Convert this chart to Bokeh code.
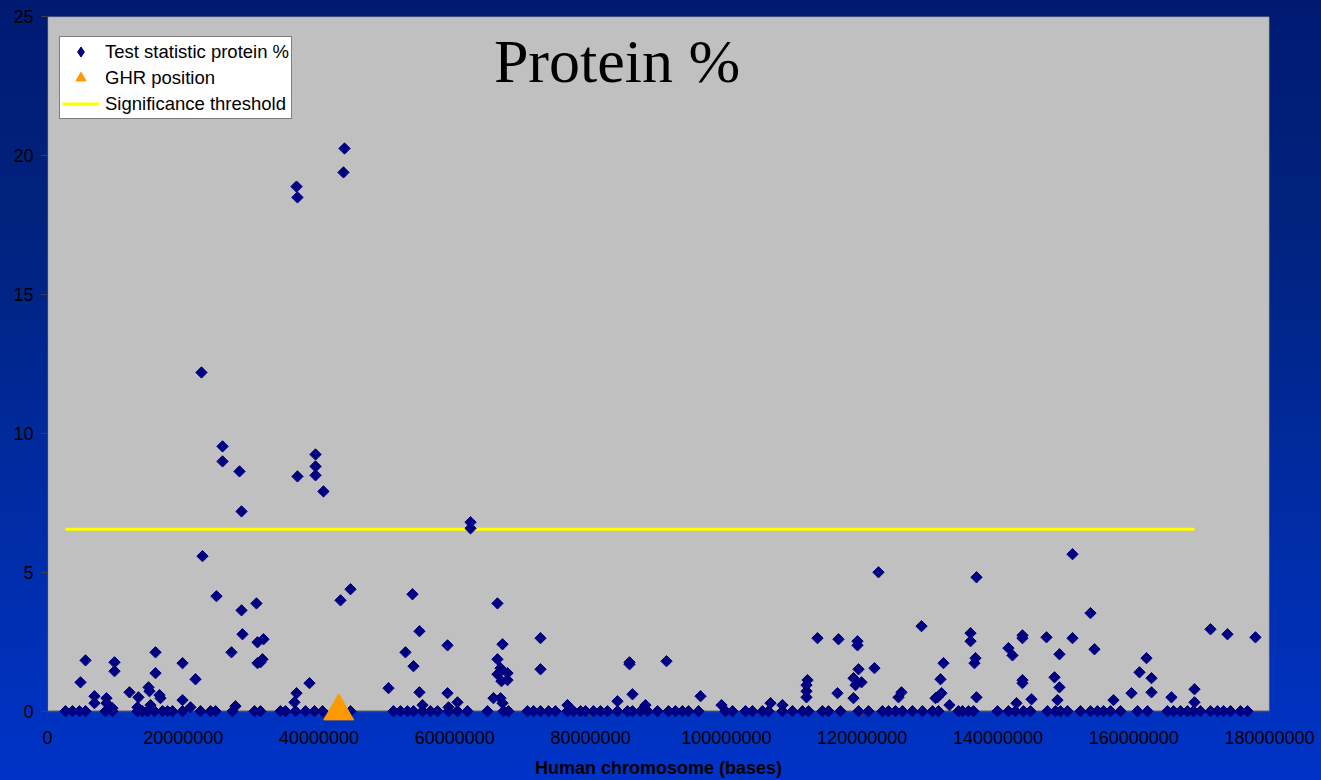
import numpy as np
from bokeh.plotting import figure
from bokeh.models import (Range1d, FixedTicker, NumeralTickFormatter, Legend, LegendItem,
                          BoxAnnotation, Label, Span, ColumnDataSource, LinearAxis)
from bokeh.embed import file_html
from bokeh.resources import INLINE

# ---------------------------------------------------------------------------
# Data: test statistic for protein % along the human chromosome
# ---------------------------------------------------------------------------
# markers with a non-zero test statistic (position in Mb, statistic)
peak_positions_mb = [
    22.68, 36.68, 36.82, 43.75, 43.60, 25.78, 25.78, 28.28, 36.82, 39.48,
    39.48, 39.48, 40.65, 28.58, 22.83, 62.31, 62.31, 122.40, 150.98, 136.84,
    24.89, 28.58, 30.78, 28.72, 30.93, 31.82, 27.10, 30.93, 31.67, 31.37,
    43.16, 44.63, 5.60, 4.86, 9.87, 9.87, 15.91, 15.91, 19.89, 21.80,
    12.08, 13.40, 14.88, 15.02, 16.50, 16.64, 6.92, 6.92, 8.69, 8.69,
    19.89, 27.69, 38.59, 36.68, 36.38, 9.57, 13.26, 15.17, 21.06,
    53.76, 66.28, 54.79, 58.92, 52.73, 53.91, 67.02, 72.62, 72.62, 66.28,
    66.73, 66.28, 67.76, 66.87, 67.76, 85.73, 85.73, 86.17, 50.23, 54.79,
    58.92, 65.69, 66.73, 67.02, 60.39, 59.07, 55.24, 76.59, 83.96, 88.08,
    128.74, 91.18, 113.42, 116.51, 119.31, 119.31, 119.46, 121.81, 118.72, 119.02,
    119.90, 111.95, 111.80, 111.80, 111.80, 116.36, 118.72, 96.19, 131.98, 131.54,
    131.68, 131.09, 130.80, 125.79, 125.35, 132.86, 99.28, 106.50, 108.26,
    153.63, 135.96, 135.96, 143.61, 143.61, 147.15, 150.98, 171.31, 173.81, 177.93,
    141.55, 142.14, 154.22, 149.06, 136.69, 136.54, 161.88, 160.85, 162.62, 148.33,
    149.06, 143.61, 143.61, 162.62, 159.67, 168.95, 168.95, 165.56, 136.84, 144.94,
    148.77, 142.73, 157.02,
]
peak_values = [
    12.19, 18.88, 18.49, 20.25, 19.39, 9.53, 8.99, 8.63, 8.45, 9.24,
    8.81, 8.49, 7.91, 7.19, 5.58, 6.80, 6.58, 5.00, 5.65, 4.82,
    4.14, 3.63, 3.88, 2.77, 2.48, 2.59, 2.12, 1.73, 1.87, 1.76,
    3.99, 4.39, 1.83, 1.04, 1.76, 1.44, 2.12, 1.37, 1.73, 1.15,
    0.68, 0.50, 0.86, 0.72, 0.58, 0.47, 0.54, 0.29, 0.47, 0.29,
    0.40, 0.18, 1.01, 0.65, 0.32, 0.11, 0.14, 0.22, 0.14,
    4.21, 3.88, 2.88, 2.37, 2.12, 1.62, 2.41, 2.63, 1.51, 1.87,
    1.55, 1.33, 1.37, 1.08, 1.12, 1.76, 1.69, 0.61, 0.83, 0.68,
    0.65, 0.47, 0.47, 0.29, 0.32, 0.14, 0.22, 0.22, 0.36, 0.22,
    3.06, 1.80, 2.63, 2.59, 2.52, 2.37, 1.51, 1.55, 1.19, 0.94,
    1.04, 1.12, 0.94, 0.72, 0.50, 0.65, 0.47, 0.54, 1.73, 1.15,
    0.65, 0.50, 0.47, 0.68, 0.50, 0.22, 0.22, 0.29, 0.22,
    3.53, 2.81, 2.52, 2.73, 2.63, 2.66, 2.63, 2.95, 2.77, 2.66,
    2.27, 2.01, 2.23, 2.05, 1.91, 1.73, 1.91, 1.40, 1.19, 1.22,
    0.86, 1.12, 1.01, 0.68, 0.65, 0.79, 0.32, 0.50, 0.50, 0.43,
    0.40, 0.29, 0.40,
]
# markers whose test statistic is zero (position in Mb)
zero_positions_mb = [
    2.65, 3.68, 4.71, 5.60, 8.54, 9.57, 13.26, 13.99, 14.73, 15.76,
    16.94, 17.68, 18.41, 19.89, 22.54, 24.01, 24.75, 27.25, 30.49, 31.37,
    34.32, 35.06, 36.53, 38.00, 39.33, 40.51, 44.63,
    50.96, 52.00, 53.03, 53.91, 55.24, 56.41, 57.45, 59.07, 60.39, 61.86,
    64.81, 67.17, 67.90, 70.70, 71.59, 72.62, 73.80, 74.83, 76.59, 77.48,
    78.51, 79.25, 80.42, 81.46, 82.49, 83.96, 85.43, 86.17, 87.35, 88.38,
    89.85, 91.47, 92.50, 93.53, 94.42, 95.89, 99.87, 100.90, 102.81, 103.84,
    105.32, 106.20, 108.26, 109.74, 111.21, 112.09, 114.15, 115.04, 116.80, 119.46,
    120.93, 122.99, 123.88, 124.91, 125.94, 127.41, 128.88, 130.36, 131.24, 134.19,
    134.78, 135.66, 136.40, 139.93, 141.55, 142.58, 143.76, 144.79, 147.30, 148.47,
    149.21, 150.24, 152.16, 153.63, 154.66, 155.55, 156.58, 158.05, 160.55, 162.03,
    164.97, 165.86, 166.89, 167.92, 168.80, 169.83, 171.31, 172.34, 173.23, 174.26,
    175.73, 176.76,
]

ghr_position = 42900000      # GHR gene position (bases)
ghr_value = 0.0

threshold_value = 6.55       # significance threshold
threshold_start = 2650000    # threshold line spans these positions (bases)
threshold_end = 168950000

x_ticks = [0, 20000000, 40000000, 60000000, 80000000, 100000000,
           120000000, 140000000, 160000000, 180000000]
y_ticks = [0, 5, 10, 15, 20, 25]

# ---------------------------------------------------------------------------
positions = [m * 1e6 for m in peak_positions_mb] + [m * 1e6 for m in zero_positions_mb]
values = peak_values + [0.0] * len(zero_positions_mb)
markers = ColumnDataSource(dict(x=positions, y=values))

NAVY = "#000080"
ORANGE = "#FF9900"
YELLOW = "#FFFF00"
AXIS = "#404040"
FONT = "Liberation Sans"

# the frame reaches a little below y = 0 so that markers sitting on the
# x axis are drawn whole
Y_FLOOR = -0.55
p = figure(width=1321, height=780, output_backend="svg", toolbar_location=None,
           x_range=Range1d(0, 180000000), y_range=Range1d(Y_FLOOR, 25),
           x_axis_location=None, y_axis_location=None,
           min_border_left=47, min_border_right=52,
           min_border_top=16, min_border_bottom=54)
p.background_fill_alpha = 0
p.border_fill_alpha = 0
p.outline_line_color = None
p.grid.visible = False
p.styles = {"background": "linear-gradient(180deg, #001a72 0%, #00237f 30%, #0034c8 100%)"}

# grey plotting area (0..180 Mb, 0..25)
p.add_layout(BoxAnnotation(left=0, right=180000000, bottom=0, top=25,
                           fill_color="#C0C0C0", fill_alpha=1,
                           line_color="#808080", line_width=2, level="underlay"))
# x axis line at y = 0
p.add_layout(Span(location=0, dimension="width", line_color=AXIS, line_width=1,
                  level="underlay"))
# x axis tick marks hanging below y = 0
tick_len = 6 / 27.79
p.segment(x0=x_ticks, x1=x_ticks, y0=[0] * len(x_ticks), y1=[-tick_len] * len(x_ticks),
          line_color=AXIS, line_width=1)

# axes
xaxis = LinearAxis(ticker=FixedTicker(ticks=x_ticks),
                   formatter=NumeralTickFormatter(format="0"),
                   axis_label="Human chromosome (bases)")
xaxis.axis_line_color = None
xaxis.major_tick_line_color = None
xaxis.major_tick_in = 0
xaxis.major_tick_out = 0
xaxis.major_label_standoff = 4
xaxis.axis_label_standoff = 11
xaxis.axis_label_text_font = FONT
xaxis.axis_label_text_font_size = "18px"
xaxis.axis_label_text_font_style = "bold"
xaxis.axis_label_text_color = "black"

yaxis = LinearAxis(ticker=FixedTicker(ticks=y_ticks), bounds=(0, 25))
yaxis.axis_line_color = AXIS
yaxis.major_tick_line_color = AXIS
yaxis.major_tick_in = 0
yaxis.major_tick_out = 6
yaxis.major_label_standoff = 8

for ax in (xaxis, yaxis):
    ax.minor_tick_line_color = None
    ax.major_label_text_font = FONT
    ax.major_label_text_font_size = "18px"
    ax.major_label_text_color = "black"
p.add_layout(xaxis, "below")
p.add_layout(yaxis, "left")

# threshold, markers, GHR
thr = p.line(x=[threshold_start, threshold_end], y=[threshold_value, threshold_value],
             line_color=YELLOW, line_width=3)
p.scatter("x", "y", source=markers, marker="square", angle=np.pi / 4, size=8,
          fill_color=NAVY, line_color=NAVY)
ghr = p.scatter(x=[ghr_position], y=[ghr_value], marker="triangle", size=30,
                fill_color=ORANGE, line_color=ORANGE)
# legend key for the markers (diamond shape, not drawn in the plot itself)
diamond_key = p.scatter(x=positions[:1], y=values[:1], marker="diamond", size=11,
                        fill_color=NAVY, line_color=NAVY, visible=False)

legend = Legend(items=[
    LegendItem(label="Test statistic protein %", renderers=[diamond_key]),
    LegendItem(label="GHR position", renderers=[ghr]),
    LegendItem(label="Significance threshold", renderers=[thr]),
], location=(12, 607), orientation="vertical", margin=0, padding=2, spacing=1,
    glyph_width=37, glyph_height=25, label_height=25, label_standoff=6,
    label_text_font=FONT, label_text_font_size="18.5px", label_text_color="black",
    background_fill_color="white", background_fill_alpha=1,
    border_line_color="black", border_line_width=1)
p.add_layout(legend)

# chart title
p.add_layout(Label(x=569.5, y=666, x_units="screen", y_units="screen", text="Protein %",
                   text_font="Liberation Serif", text_font_size="62px",
                   text_align="center", text_baseline="alphabetic", text_color="black"))

open("out.html", "w").write(file_html(p, INLINE))
